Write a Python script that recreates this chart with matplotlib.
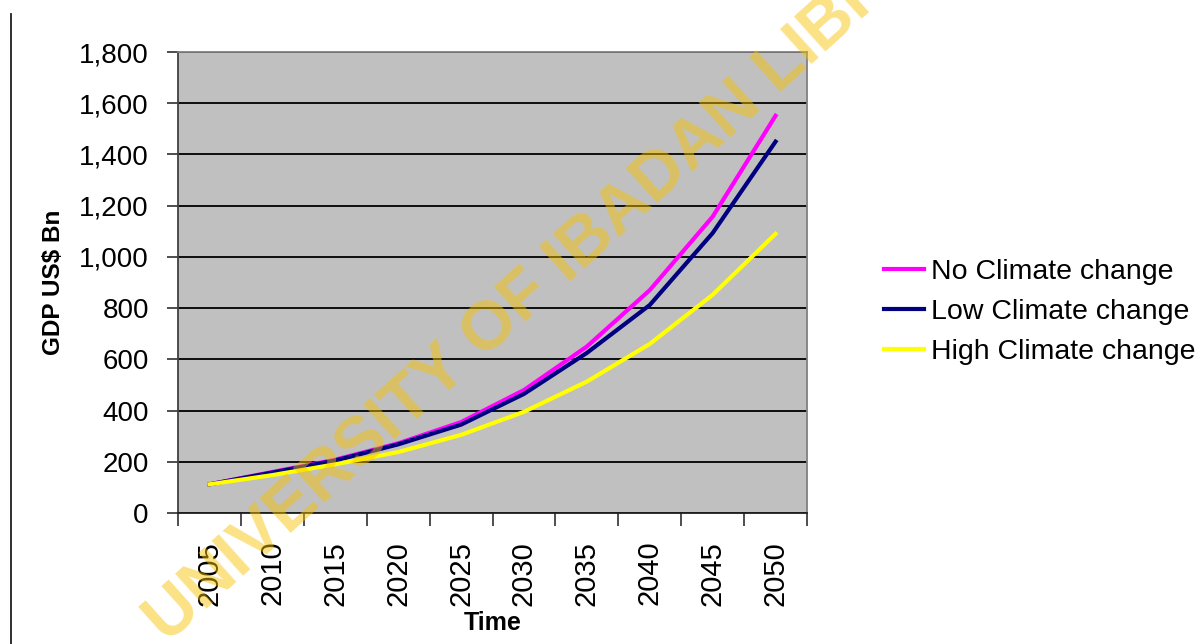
import matplotlib.pyplot as plt
from matplotlib.ticker import FuncFormatter, FixedLocator

plt.rcParams['font.family'] = ['Liberation Sans', 'DejaVu Sans']

years = ['2005', '2010', '2015', '2020', '2025', '2030', '2035', '2040', '2045', '2050']
no_change = [112, 160, 208, 272, 355, 480, 650, 870, 1157, 1551]
low_change = [112, 158, 205, 268, 345, 465, 625, 812, 1093, 1450]
high_change = [112, 148, 190, 238, 305, 395, 513, 660, 852, 1090]

fig = plt.figure(figsize=(11.98, 6.44), dpi=100)
ax = fig.add_axes([178/1198, 1 - 513/644, 629/1198, 461/644])
ax.set_facecolor('#c0c0c0')

x = list(range(len(years)))
ax.plot(x, no_change, color='#ff00ff', lw=3, label='No Climate change', zorder=3)
ax.plot(x, low_change, color='#000080', lw=3, label='Low Climate change', zorder=3)
ax.plot(x, high_change, color='#ffff00', lw=3, label='High Climate change', zorder=3)

ax.set_xlim(-0.5, len(years) - 0.5)
ax.set_ylim(0, 1800)
ax.set_yticks(range(0, 1801, 200))
ax.yaxis.set_major_formatter(FuncFormatter(lambda v, p: f'{int(v):,}'))
ax.yaxis.grid(True, color='black', lw=1.3)
ax.set_axisbelow(True)

# ticks on category boundaries, labels at category centres
ax.xaxis.set_major_locator(FixedLocator([i - 0.5 for i in range(len(years) + 1)]))
ax.xaxis.set_minor_locator(FixedLocator(x))
ax.set_xticklabels([''] * (len(years) + 1))
ax.set_xticklabels(years, minor=True, rotation=90)
ax.tick_params(axis='x', which='major', length=9, width=1.2, color='#303030')
ax.tick_params(axis='x', which='minor', length=0, pad=20, labelsize=21)
ax.tick_params(axis='y', length=8, width=1.2, color='#303030', pad=13, labelsize=20)

ax.spines['left'].set_color('#404040')
ax.spines['bottom'].set_color('#202020')
ax.spines['top'].set_color('#808080')
ax.spines['right'].set_color('#808080')
for s in ax.spines.values():
    s.set_linewidth(1.3)

ax.set_ylabel('GDP US$ Bn', fontsize=17.5, fontweight='bold', labelpad=10)
ax.set_xlabel('Time', fontsize=18, fontweight='bold', labelpad=4)

fig.legend(loc='center left', bbox_to_anchor=(884/1198, 1 - 312/644), frameon=False,
           fontsize=20.5, handlelength=1.4, handletextpad=0.25, labelspacing=0.5,
           borderpad=0, borderaxespad=0)

# page border line on the left
fig.add_artist(plt.Line2D([11/1198, 11/1198], [0, 1 - 14/644], color='#202020', lw=1.3))

# library watermark
fig.text(168/1198, 1 - 645/644, 'UNIVERSITY OF IBADAN LIBRARY', fontsize=49,
         fontweight='bold', color='#f7c200', alpha=0.48, rotation=42,
         rotation_mode='anchor', ha='left', va='baseline', zorder=10)

fig.savefig('out.png', dpi=100)
